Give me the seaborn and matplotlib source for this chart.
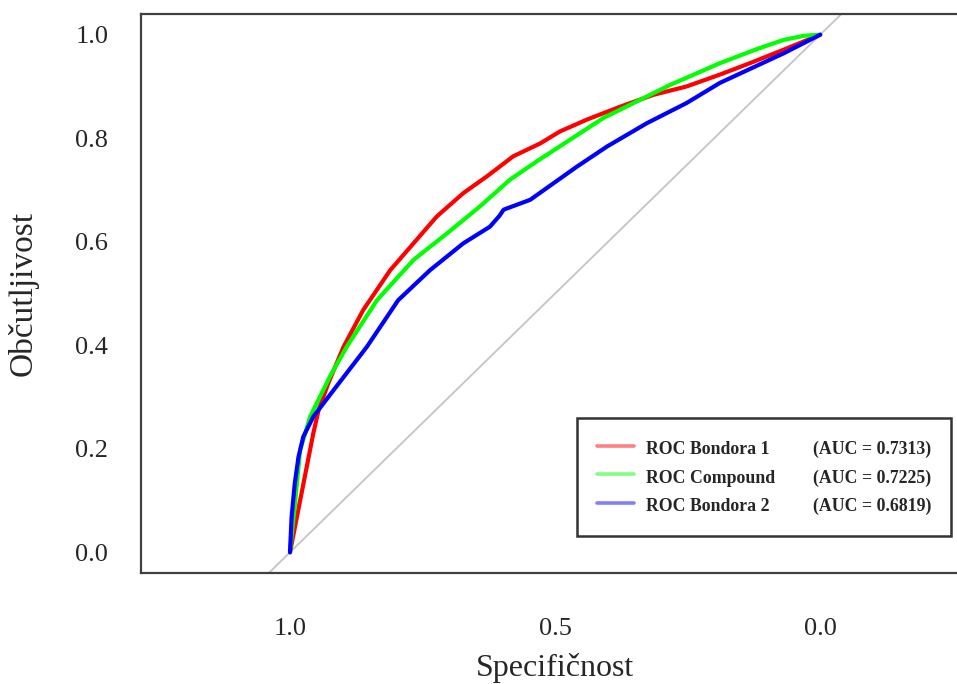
import seaborn as sns
import matplotlib.pyplot as plt
import pandas as pd
from matplotlib.lines import Line2D

# ROC krivulje (specifičnost, občutljivost), odčitano s slike
red_spec = [1.0, 0.978, 0.956, 0.946, 0.928, 0.899, 0.862, 0.811, 0.767, 0.723, 0.673,
            0.629, 0.579, 0.528, 0.491, 0.440, 0.377, 0.314, 0.252, 0.189, 0.130, 0.069, 0.0]
red_sens = [0.0, 0.115, 0.23, 0.275, 0.326, 0.397, 0.468, 0.545, 0.597, 0.649, 0.694,
            0.726, 0.765, 0.790, 0.813, 0.836, 0.861, 0.884, 0.900, 0.923, 0.946, 0.971, 1.0]

green_spec = [1.0, 0.990, 0.981, 0.962, 0.925, 0.893, 0.836, 0.767, 0.704, 0.642, 0.585,
              0.535, 0.472, 0.409, 0.346, 0.283, 0.189, 0.120, 0.069, 0.03, 0.0]
green_sens = [0.0, 0.10, 0.197, 0.262, 0.339, 0.397, 0.487, 0.565, 0.616, 0.668, 0.720,
              0.755, 0.797, 0.839, 0.871, 0.903, 0.945, 0.972, 0.990, 0.998, 1.0]

blue_spec = [1.0, 0.997, 0.991, 0.984, 0.975, 0.956, 0.918, 0.855, 0.796, 0.736, 0.673,
             0.623, 0.605, 0.597, 0.547, 0.503, 0.459, 0.402, 0.327, 0.252, 0.189, 0.130,
             0.069, 0.0]
blue_sens = [0.0, 0.068, 0.133, 0.184, 0.223, 0.262, 0.313, 0.397, 0.487, 0.545, 0.597,
             0.629, 0.650, 0.662, 0.681, 0.713, 0.745, 0.784, 0.829, 0.868, 0.907, 0.935,
             0.964, 1.0]

names = ['ROC Bondora 1', 'ROC Compound', 'ROC Bondora 2']
auc_labels = ['(AUC = 0.7313)', '(AUC = 0.7225)', '(AUC = 0.6819)']
line_colors = ['#ff0000', '#00ff00', '#0000ff']
legend_colors = ['#ff8080', '#80ff80', '#8080ff']

frames = []
for name, sp, se in zip(names, [red_spec, green_spec, blue_spec],
                        [red_sens, green_sens, blue_sens]):
    frames.append(pd.DataFrame({'spec': sp, 'sens': se, 'model': name}))
df = pd.concat(frames, ignore_index=True)

sns.set_style('white')
plt.rcParams['font.family'] = ['Liberation Serif', 'DejaVu Serif']

fig = plt.figure(figsize=(9.57, 6.84), dpi=100)
ax = fig.add_axes([141 / 957, 111 / 684, 816 / 957, 559 / 684])

# diagonala
ax.axline((1, 0), (0, 1), color='#c4c4c4', lw=1.3, zorder=1)

sns.lineplot(data=df, x='spec', y='sens', hue='model', palette=line_colors,
             sort=False, estimator=None, lw=3, legend=False, ax=ax, zorder=3)

ax.set_xlim(1.281, -0.258)
ax.set_ylim(-0.04, 1.04)
ax.set_xticks([1.0, 0.5, 0.0])
ax.set_xticklabels(['1.0', '0.5', '0.0'])
ax.set_yticks([0.0, 0.2, 0.4, 0.6, 0.8, 1.0])
ax.set_yticklabels(['0.0', '0.2', '0.4', '0.6', '0.8', '1.0'])
ax.tick_params(axis='x', length=11.5, width=1.5, color='#404040', pad=21, labelsize=19)
ax.tick_params(axis='y', length=9.5, width=1.5, color='#404040', pad=14, labelsize=19)

ax.set_xlabel('Specifičnost', fontsize=23)
ax.set_ylabel('Občutljivost', fontsize=24)
ax.xaxis.set_label_coords(0.5074, -0.143)
ax.yaxis.set_label_coords(-0.126, 0.5)

for s in ['left', 'bottom', 'top']:
    ax.spines[s].set_color('#404040')
    ax.spines[s].set_linewidth(1.6)
ax.spines['right'].set_visible(False)

# legenda: 1. stolpec imena, 2. stolpec AUC
handles = [Line2D([], [], color=c, lw=2.6) for c in legend_colors]
handles += [Line2D([], [], linestyle='none') for _ in auc_labels]
leg = ax.legend(handles, names + auc_labels, ncol=2, loc='upper left',
                bbox_to_anchor=(577 / 957, 1 - 418 / 684), bbox_transform=fig.transFigure,
                borderaxespad=0, fancybox=False, framealpha=1, handlelength=2.1,
                handleheight=1.5, handletextpad=0.67, columnspacing=-0.62,
                labelspacing=0.38, borderpad=1.1,
                prop={'family': 'Liberation Serif', 'weight': 'bold', 'size': 12.8})
leg.get_frame().set_edgecolor('#333333')
leg.get_frame().set_linewidth(1.8)

plt.savefig('out.png', dpi=100)
